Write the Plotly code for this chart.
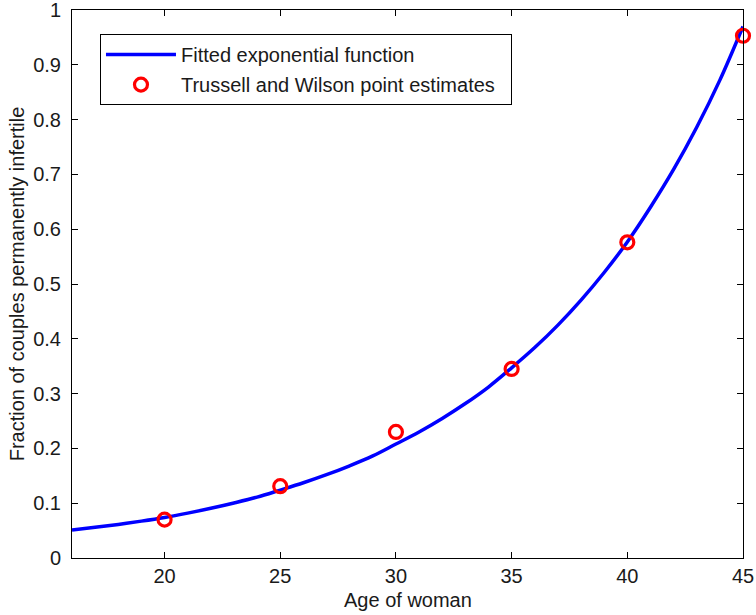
import plotly.graph_objects as go

# Fitted exponential curve, values at each age
curve_age = list(range(16, 46))
curve_frac = [0.051, 0.0560, 0.0613, 0.0673, 0.074, 0.0819, 0.0907, 0.1004, 0.1111, 0.124,
              0.1373, 0.152, 0.1683, 0.1863, 0.208, 0.230, 0.2546, 0.2818, 0.312, 0.347,
              0.384, 0.425, 0.4706, 0.521, 0.5767, 0.640, 0.709, 0.786, 0.872, 0.970]

# Trussell and Wilson point estimates
point_age = [20, 25, 30, 35, 40, 45]
point_frac = [0.070, 0.131, 0.230, 0.345, 0.576, 0.953]

x_ticks = [20, 25, 30, 35, 40, 45]
y_ticks = [0, 0.1, 0.2, 0.3, 0.4, 0.5, 0.6, 0.7, 0.8, 0.9, 1]
y_tick_text = ["0", "0.1", "0.2", "0.3", "0.4", "0.5", "0.6", "0.7", "0.8", "0.9", "1"]

FONT = "Liberation Sans, Arial, sans-serif"

fig = go.Figure()
fig.add_trace(go.Scatter(
    x=curve_age, y=curve_frac, mode="lines",
    line=dict(color="#0000ff", width=3.5, shape="spline"),
    name="Fitted exponential function", legendgroup="a",
))
fig.add_trace(go.Scatter(
    x=point_age, y=point_frac, mode="markers",
    marker=dict(symbol="circle-open", size=13, color="#ff0000", line=dict(width=3.2, color="#ff0000")),
    name="Trussell and Wilson point estimates\u00a0\u00a0", legendgroup="b", cliponaxis=False,
))

axis_common = dict(
    showline=True, linecolor="black", linewidth=1, mirror="ticks",
    ticks="inside", ticklen=6, tickcolor="black", tickwidth=1,
    showgrid=False, zeroline=False, automargin=False,
    ticklabeloverflow="allow",
    tickfont=dict(family=FONT, size=20, color="#1a1a1a"),
)

fig.update_layout(
    width=756, height=615,
    margin=dict(l=72, r=13, t=10, b=57),
    paper_bgcolor="white", plot_bgcolor="white",
    font=dict(family=FONT, size=20, color="#1a1a1a"),
    xaxis=dict(range=[16, 45], tickvals=x_ticks, ticklabelstandoff=0, **axis_common),
    yaxis=dict(range=[0, 1], tickvals=y_ticks, ticktext=y_tick_text,
               title=dict(text="Fraction of couples permanently infertile", font=dict(family=FONT, size=20), standoff=3),
               ticklabelstandoff=6, **axis_common),
    legend=dict(x=0.0417, y=0.956, xanchor="left", yanchor="top",
                bordercolor="black", borderwidth=1, bgcolor="white",
                font=dict(family=FONT, size=20, color="#1a1a1a"),
                itemwidth=70, tracegroupgap=1),
    showlegend=True,
)
fig.add_annotation(text="Age of woman", xref="paper", yref="paper", x=0.5, y=0,
                   xanchor="center", yanchor="top", yshift=-29, showarrow=False,
                   font=dict(family=FONT, size=20, color="#1a1a1a"))

fig.write_html("out.html")
